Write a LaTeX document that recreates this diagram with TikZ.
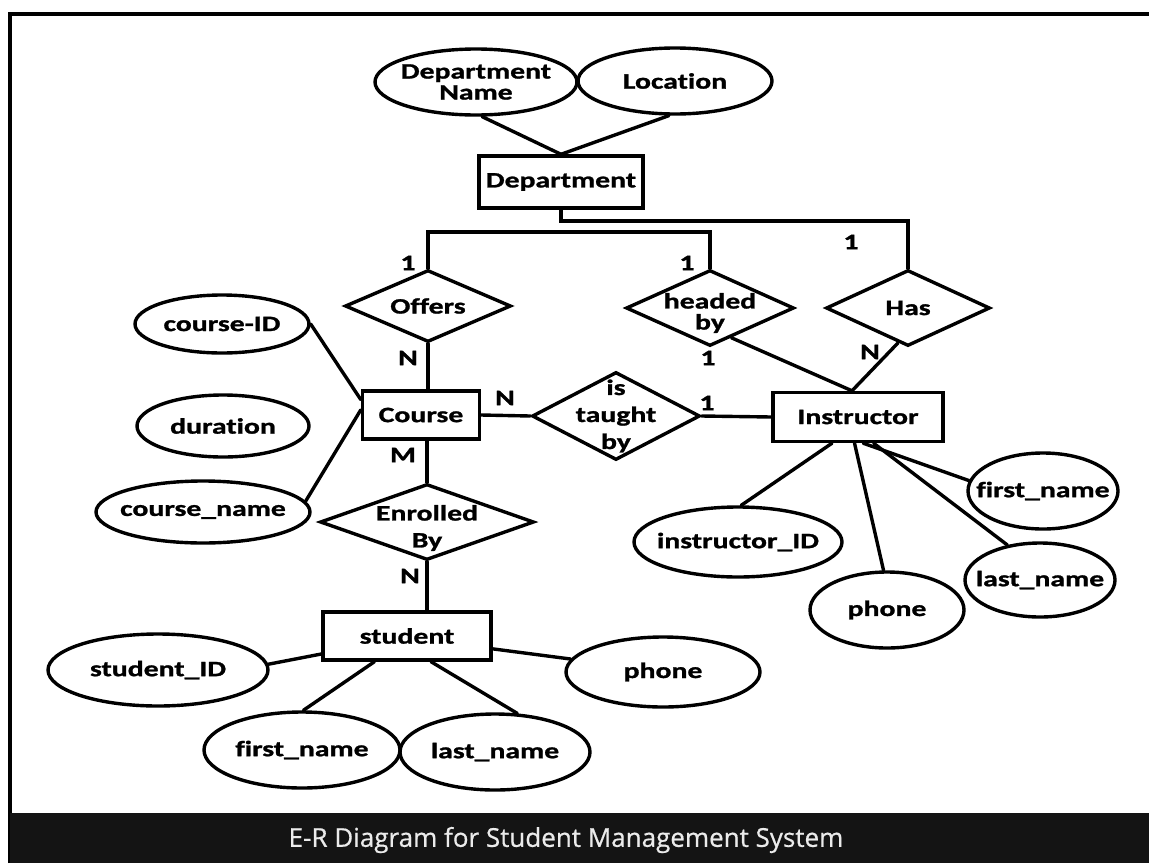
\documentclass[tikz,border=0pt]{standalone}
\usepackage{fontspec}
\setmainfont{Carlito}
\newfontfamily\erfont[FakeStretch=1.35, FakeBold=1.2, Ligatures=NoCommon]{Carlito}
\newfontfamily\capfont[FakeBold=0.6]{Open Sans}
\usetikzlibrary{shapes.geometric,calc}

\tikzset{
  ln/.style={line width=3.4},
  ent/.style={ln, draw, rectangle, inner sep=0, font=\erfont\bfseries\fontsize{22}{22}\selectfont},
  attr/.style={ln, draw, ellipse, inner sep=0},
  rel/.style={ln, draw, diamond, inner sep=0},
  txt/.style={inner sep=0, align=center, font=\erfont\bfseries\fontsize{22}{21}\selectfont},
  txtwide/.style={inner sep=0, align=center, font=\erfont\bfseries\fontsize{22}{27}\selectfont},
  card/.style={inner sep=0, font=\erfont\bfseries\fontsize{22}{22}\selectfont},
  conn/.style={ln, line cap=round},
  capt/.style={inner sep=0, text=black!8, font=\capfont\fontsize{26}{26}\selectfont}
}

\begin{document}
\begin{tikzpicture}[x=1pt,y=-1pt]
\useasboundingbox (0,0) rectangle (1149,863);
\fill[white] (0,0) rectangle (1149,863);

% frame and caption bar
\draw[line width=3.4] (10,863) -- (10,14) -- (1149,14);
\fill[black!92] (10,813) rectangle (1149,863);
\node[capt] (title) at (566,840) {E-R Diagram for Student Management System};

% entities
\node[ent, minimum width=164, minimum height=52] (dept) at (561,182) {Department};
\node[ent, minimum width=117, minimum height=48] (course) at (421,415) {Course};
\node[ent, minimum width=170, minimum height=49] (instr) at (858,417) {Instructor};
\node[ent, minimum width=168, minimum height=48] (student) at (407,636) {student};

% attributes
\node[attr, minimum width=202, minimum height=66, label={[txt]center:Department\\Name}] (dname) at (476,82) {};
\node[attr, minimum width=194, minimum height=66, label={[txt]center:Location}] (loc) at (675,81) {};
\node[attr, minimum width=174, minimum height=58, label={[txt]center:course-ID}] (cid) at (222,324) {};
\node[attr, minimum width=172, minimum height=62, label={[txt]center:duration}] (dur) at (223,426) {};
\node[attr, minimum width=214, minimum height=62, label={[txt]center:course\_name}] (cname) at (203,512) {};
\node[attr, minimum width=220, minimum height=72, label={[txt]center:student\_ID}] (sid) at (158,670) {};
\node[attr, minimum width=196, minimum height=76, label={[txt]center:first\_name}] (sfn) at (302,750) {};
\node[attr, minimum width=190, minimum height=76, label={[txt]center:last\_name}] (sln) at (495,752) {};
\node[attr, minimum width=194, minimum height=70, label={[txt]center:phone}] (sph) at (663,672) {};
\node[attr, minimum width=208, minimum height=70, label={[txt]center:instructor\_ID}] (iid) at (738,542) {};
\node[attr, minimum width=154, minimum height=76, label={[txt]center:phone}] (iph) at (887,610) {};
\node[attr, minimum width=150, minimum height=76, label={[txt]center:first\_name}] (ifn) at (1043,491) {};
\node[attr, minimum width=150, minimum height=74, label={[txt]center:last\_name}] (iln) at (1040,580) {};

% relationships
\node[rel, minimum width=166, minimum height=72, label={[txt]center:Offers}] (offers) at (428,306) {};
\node[rel, minimum width=168, minimum height=76, label={[txt, yshift=-5]center:headed\\by}] (headed) at (710,308) {};
\node[rel, minimum width=164, minimum height=76, label={[txt]center:Has}] (has) at (908,308) {};
\node[rel, minimum width=168, minimum height=88, label={[txtwide]center:is\\taught\\by}] (taught) at (616,416) {};
\node[rel, minimum width=214, minimum height=76, label={[txtwide, yshift=-6]center:Enrolled\\By}] (enrolled) at (427,522) {};

% connectors
\coordinate (busA) at (908,221);
\coordinate (busB) at (0,232);
\coordinate (itop) at ($(instr.north)+(-6,0)$);

\draw[conn] (dname.-80) -- (dept.north);
\draw[conn] (loc.-100) -- (dept.north);
\draw[conn] (dept.south) |- (busA) -- (has.north);
\draw[conn] (offers.north) -- (offers.north |- busB) -- (headed.north |- busB) -- (headed.north);
\draw[conn] (offers.south) -- (offers.south |- course.north);
\draw[conn] ($(headed.south)!0.25!(headed.east)$) -- (itop);
\draw[conn] ($(has.south)!0.12!(has.west)$) -- (itop);
\draw[conn] (course.east) -- (taught.west);
\draw[conn] (taught.east) -- (instr.west);
\draw[conn] (enrolled.north |- course.south) -- (enrolled.north);
\draw[conn] (enrolled.south) -- (enrolled.south |- student.north);
\draw[conn] (cid.east) -- ($(course.north west)!0.2!(course.south west)$);
\draw[conn] (cname.6) -- ($(course.north west)!0.4!(course.south west)$);
\draw[conn] (sid.3) -- ($(student.north west)!0.85!(student.south west)$);
\draw[conn] (sph.172) -- ($(student.north east)!0.75!(student.south east)$);
\draw[conn] (sfn.88) -- ($(student.south west)!0.31!(student.south east)$);
\draw[conn] (sln.60) -- ($(student.south west)!0.64!(student.south east)$);
\draw[conn] (iid.85) -- ($(instr.south west)!0.35!(instr.south east)$);
\draw[conn] (iph.95) -- ($(instr.south west)!0.48!(instr.south east)$);
\draw[conn] (ifn.172) -- ($(instr.south west)!0.53!(instr.south east)$);
\draw[conn] (iln.133) -- ($(instr.south west)!0.59!(instr.south east)$);

% cardinalities
\node[card] (c1) at (408,263) {1};
\node[card] (c2) at (687,263) {1};
\node[card] (c3) at (851,242) {1};
\node[card] (c4) at (408,358) {N};
\node[card] (c5) at (708,358) {1};
\node[card] (c6) at (870,352) {N};
\node[card] (c7) at (505,398) {N};
\node[card] (c8) at (707,403) {1};
\node[card] (c9) at (403,455) {M};
\node[card] (c10) at (410,576) {N};
\end{tikzpicture}
\end{document}
